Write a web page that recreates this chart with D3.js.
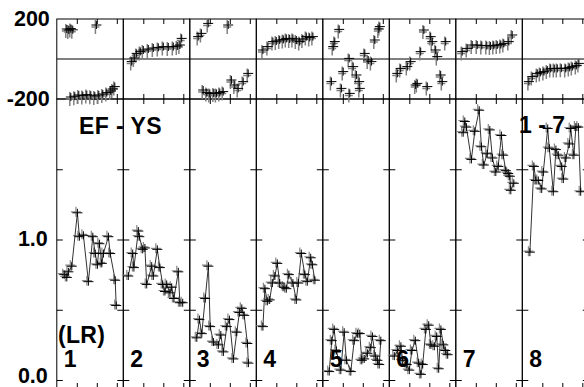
<!DOCTYPE html>
<html><head><meta charset="utf-8">
<script src="https://cdn.jsdelivr.net/npm/d3@7"></script>
<style>
body{margin:0;background:#fff}
svg{display:block}
text{font-family:"Liberation Sans",Arial,Helvetica,sans-serif;font-weight:bold;fill:#000}
</style>
</head><body>
<svg id="chart" width="584" height="387"></svg>
<script>
// ---- data ----
const panelLabels = ["1","2","3","4","5","6","7","8"];
const phaseTickValues = [200, -200];
const phaseTickLabels = ["200", "-200"];
const ampTickValues = [1.0, 0.0];
const ampTickLabels = ["1.0", "0.0"];
const ampInnerTicks = [0, 0.5, 1.0, 1.5];
const xTickValues = [10, 20, 30];

// main (amplitude ratio) series: [x, value]
const lr1 = [[3.7,0.75],[5.0,0.73],[5.8,0.77],[7.5,0.81],[10.3,1.19],[11.3,1.02],[13.3,1.03],[15.8,0.70],[18,1.02],[19.2,0.90],[20.3,0.82],[21.3,0.97],[22.5,0.83],[23.3,0.90],[25.8,1.02],[26.7,0.90],[29.2,0.71],[29.7,0.53]];
const lr2 = [[2.5,0.74],[4.7,0.90],[5.3,0.80],[7.5,1.06],[8,1.02],[9.7,0.93],[10.8,0.94],[11.7,0.68],[14.2,0.81],[15,0.74],[17,0.93],[18.3,0.80],[19.7,0.68],[20.8,0.63],[21.7,0.68],[23.3,0.62],[24.2,0.66],[25.3,0.58],[27.5,0.77],[28.3,0.55],[29.7,0.55]];
const lr3 = [[3.5,0.30],[4.8,0.43],[6,0.33],[7.7,0.58],[9.3,0.81],[10.2,0.38],[11.8,0.27],[14.3,0.25],[15.5,0.32],[16.8,0.20],[18.5,0.38],[19.8,0.43],[21.8,0.15],[23.5,0.34],[24.8,0.48],[26,0.51],[27.2,0.46],[28.8,0.26],[29.3,0.12]];
const lr4 = [[3.3,0.38],[4.3,0.65],[5.5,0.56],[6.7,0.57],[8,0.69],[9.3,0.74],[10.5,0.83],[11.7,0.69],[13.8,0.66],[15,0.65],[16.3,0.75],[18.3,0.69],[20,0.57],[21,0.69],[22.5,0.90],[24.3,0.75],[25.5,0.70],[27.2,0.87],[28,0.82],[29.3,0.71]];
const lr5 = [[3.2,0.06],[4.5,0.28],[5.7,0.36],[6.8,0.21],[9,0.07],[10.7,0.34],[11.8,0.14],[14,0.06],[15.7,0.28],[17.3,0.33],[18.5,0.33],[19.5,0.14],[20.7,0.15],[22.3,0.19],[24,0.23],[24.8,0.31],[26.2,0.17],[27.3,0.14],[28.2,0.11],[29,0.28]];
const lr6 = [[2.5,0.17],[4.2,0.21],[5.8,0.24],[6.7,0.14],[8.7,0.11],[10,0.07],[11.3,0.21],[13,0.28],[14.7,0.12],[15.8,0.04],[16.7,0.11],[18.3,0.36],[19.7,0.39],[20.8,0.25],[22.5,0.24],[23.7,0.31],[24.7,0.08],[25.8,0.36],[27,0.25],[28,0.21],[29.2,0.18]];
const lr7 = [[3.7,1.76],[4.5,1.84],[5.3,1.80],[7.8,1.57],[9.5,1.77],[11.7,1.92],[12.8,1.66],[14,1.53],[15.7,1.61],[17,1.78],[18.3,1.58],[20,1.48],[21.2,1.52],[22.8,1.74],[23.7,1.60],[25,1.49],[26.2,1.47],[27,1.45],[27.5,1.35],[29,1.40]];
const lr8 = [[3.8,0.91],[5.8,1.52],[6.8,1.42],[8,1.42],[9.7,1.36],[10.5,1.48],[12.7,1.79],[13.5,1.65],[15.5,1.34],[16.8,1.64],[18,1.60],[19.7,1.52],[20.5,1.43],[21.8,1.58],[23.5,1.68],[24.2,1.79],[25.8,1.60],[26.8,1.80],[28,1.80],[29.2,1.34]];

// top strip (phase, degrees) series: [x, value]
const ph1 = [[5,150],[6,145],[7,152],[8,146],[19.8,170],[7,-190],[9,-186],[11,-180],[13,-183],[15,-178],[17,-181],[19,-185],[21,-180],[23,-175],[25,-168],[27,-160],[28,-150],[29,-138]];
const ph2 = [[4.2,-13],[5.5,5],[6.7,28],[8.5,38],[10,45],[12.5,50],[15,55],[17.5,58],[20,62],[22.5,60],[25,62],[27,65],[28.3,70],[29.2,103]];
const ph3 = [[4.2,112],[5.8,128],[9.2,178],[19.2,170],[6.7,-155],[8.5,-168],[10,-172],[12,-170],[13.3,-172],[15,-168],[16.7,-163],[20.8,-105],[22.5,-130],[24.2,-147],[26.7,-113],[29.2,-72]];
const ph4 = [[3.3,45],[5.8,62],[8.3,87],[10,90],[11.7,95],[13.5,98],[15,103],[16.7,100],[18.3,103],[20,95],[21.7,87],[23.3,100],[25,112],[26.7,108],[28.3,112]];
const ph5 = [[4.3,-113],[5.2,62],[6,87],[8.2,148],[9.3,-147],[10.2,-63],[13.2,3],[13.5,-172],[15.2,-38],[16.8,-80],[18.2,-113],[18.5,-147],[21,28],[22.7,-5],[24.3,-13],[26,95],[28.5,162],[28,150]];
const ph6 = [[4,-72],[5.7,-47],[9,-38],[10.7,-13],[13.2,-130],[14,-122],[15.7,37],[17.3,145],[19,-138],[20.7,112],[21.5,87],[23.2,45],[24,12],[25.7,-80],[26.5,-113],[28.2,87]];
const ph7 = [[3.2,37],[5.7,53],[8.2,70],[10.7,70],[13,68],[15.5,67],[17.3,65],[19,68],[20.7,70],[22.5,72],[24,78],[26.5,87],[28.2,120]];
const ph8 = [[3.3,-113],[5,-88],[7.5,-72],[9,-67],[10.8,-63],[12.5,-55],[14.2,-47],[16,-48],[17.5,-47],[19.5,-46],[21.7,-47],[23.5,-42],[25,-38],[27,-32],[28.3,-22]];

const lrSeries = [lr1, lr2, lr3, lr4, lr5, lr6, lr7, lr8];
const phSeries = [ph1, ph2, ph3, ph4, ph5, ph6, ph7, ph8];

// ---- layout ----
const left = 56.8, pw = 66.5;
const topY = 19, midY = 99, botY = 388;
const svg = d3.select("#chart");

const phaseY = d3.scaleLinear().domain([-200, 200]).range([midY, topY]);
const ampY = d3.scaleLinear().domain([0, 2]).range([380, midY]);

const plusBlack = "M-5,0H5M0,-4V4";
const plusGrayMain = "M-5,0H5M0,-5V5";
const plusGrayTop = "M-4,0H4M0,-7V7";

panelLabels.forEach((lab, i) => {
  const x0 = left + i * pw;
  const x = d3.scaleLinear().domain([0, 33.25]).range([x0, x0 + pw]);
  const g = svg.append("g");

  g.append("rect").attr("x", x0).attr("y", topY).attr("width", pw).attr("height", midY - topY)
    .attr("fill", "none").attr("stroke", "#000").attr("stroke-width", 1);
  g.append("rect").attr("x", x0).attr("y", midY).attr("width", pw).attr("height", botY - midY)
    .attr("fill", "none").attr("stroke", "#000").attr("stroke-width", 1);
  g.append("line").attr("x1", x0).attr("x2", x0 + pw).attr("y1", phaseY(0)).attr("y2", phaseY(0))
    .attr("stroke", "#000").attr("stroke-width", 1);

  const addAxis = (axis, ty) => {
    const a = g.append("g").attr("transform", `translate(0,${ty})`).call(axis);
    a.select(".domain").remove();
    a.selectAll("line").attr("stroke", "#000");
    a.selectAll("text").remove();
  };
  addAxis(d3.axisBottom(x).tickValues(xTickValues).tickSize(5).tickFormat(""), topY);
  addAxis(d3.axisTop(x).tickValues(xTickValues).tickSize(5).tickFormat(""), midY);
  addAxis(d3.axisBottom(x).tickValues(xTickValues).tickSize(5).tickFormat(""), midY);
  addAxis(d3.axisTop(x).tickValues(xTickValues).tickSize(5).tickFormat(""), botY);

  const yAxL = g.append("g").attr("transform", `translate(${x0},0)`)
    .call(d3.axisRight(ampY).tickValues(ampInnerTicks).tickSize(6).tickFormat(""));
  yAxL.select(".domain").remove();
  const yAxR = g.append("g").attr("transform", `translate(${x0 + pw},0)`)
    .call(d3.axisLeft(ampY).tickValues(ampInnerTicks).tickSize(6).tickFormat(""));
  yAxR.select(".domain").remove();
  g.selectAll(".tick line").attr("stroke", "#000");

  const ph = phSeries[i];
  g.selectAll(".phg").data(ph).enter().append("path")
    .attr("d", plusGrayTop).attr("transform", d => `translate(${x(d[0]) - 1},${phaseY(d[1]) + 2})`)
    .attr("stroke", "#808080").attr("stroke-width", 1.5).attr("fill", "none");
  g.selectAll(".phb").data(ph).enter().append("path")
    .attr("d", plusBlack).attr("transform", d => `translate(${x(d[0])},${phaseY(d[1])})`)
    .attr("stroke", "#000").attr("stroke-width", 1).attr("fill", "none");

  const lr = lrSeries[i];
  g.selectAll(".lrg").data(lr).enter().append("path")
    .attr("d", plusGrayMain).attr("transform", d => `translate(${x(d[0]) - 1.5},${ampY(d[1]) - 1})`)
    .attr("stroke", "#888").attr("stroke-width", 1.2).attr("fill", "none");
  g.append("path").datum(lr)
    .attr("d", d3.line().x(d => x(d[0])).y(d => ampY(d[1])))
    .attr("fill", "none").attr("stroke", "#333").attr("stroke-width", 1);
  g.selectAll(".lrb").data(lr).enter().append("path")
    .attr("d", plusBlack).attr("transform", d => `translate(${x(d[0])},${ampY(d[1])})`)
    .attr("stroke", "#000").attr("stroke-width", 1).attr("fill", "none");

  g.append("text").attr("x", x0 + 7).attr("y", 367).attr("font-size", 23).text(lab);
});

const phAx = svg.append("g").attr("transform", `translate(${left},0)`)
  .call(d3.axisLeft(phaseY).tickValues(phaseTickValues).tickSize(0).tickPadding(7)
    .tickFormat((d, k) => phaseTickLabels[k]));
phAx.select(".domain").remove();
const ampAx = svg.append("g").attr("transform", `translate(${left},0)`)
  .call(d3.axisLeft(ampY).tickValues(ampTickValues).tickSize(0).tickPadding(9)
    .tickFormat((d, k) => ampTickLabels[k]));
ampAx.select(".domain").remove();
svg.selectAll(".tick text").attr("font-size", 21.5).attr("font-family", "'Liberation Sans',Arial,sans-serif")
  .attr("font-weight", "bold").attr("fill", "#000");
ampAx.selectAll(".tick text").attr("dy", (d, k) => k === 1 ? "0.1em" : "0.3em");

svg.append("text").attr("x", 79).attr("y", 134).attr("font-size", 23).attr("letter-spacing", 0.4).text("EF - YS");
svg.append("text").attr("x", 58).attr("y", 343).attr("font-size", 23).attr("letter-spacing", 0.3).text("(LR)");
svg.append("text").attr("x", 519).attr("y", 133).attr("font-size", 23).text("1 - 7");
</script>
</body></html>
